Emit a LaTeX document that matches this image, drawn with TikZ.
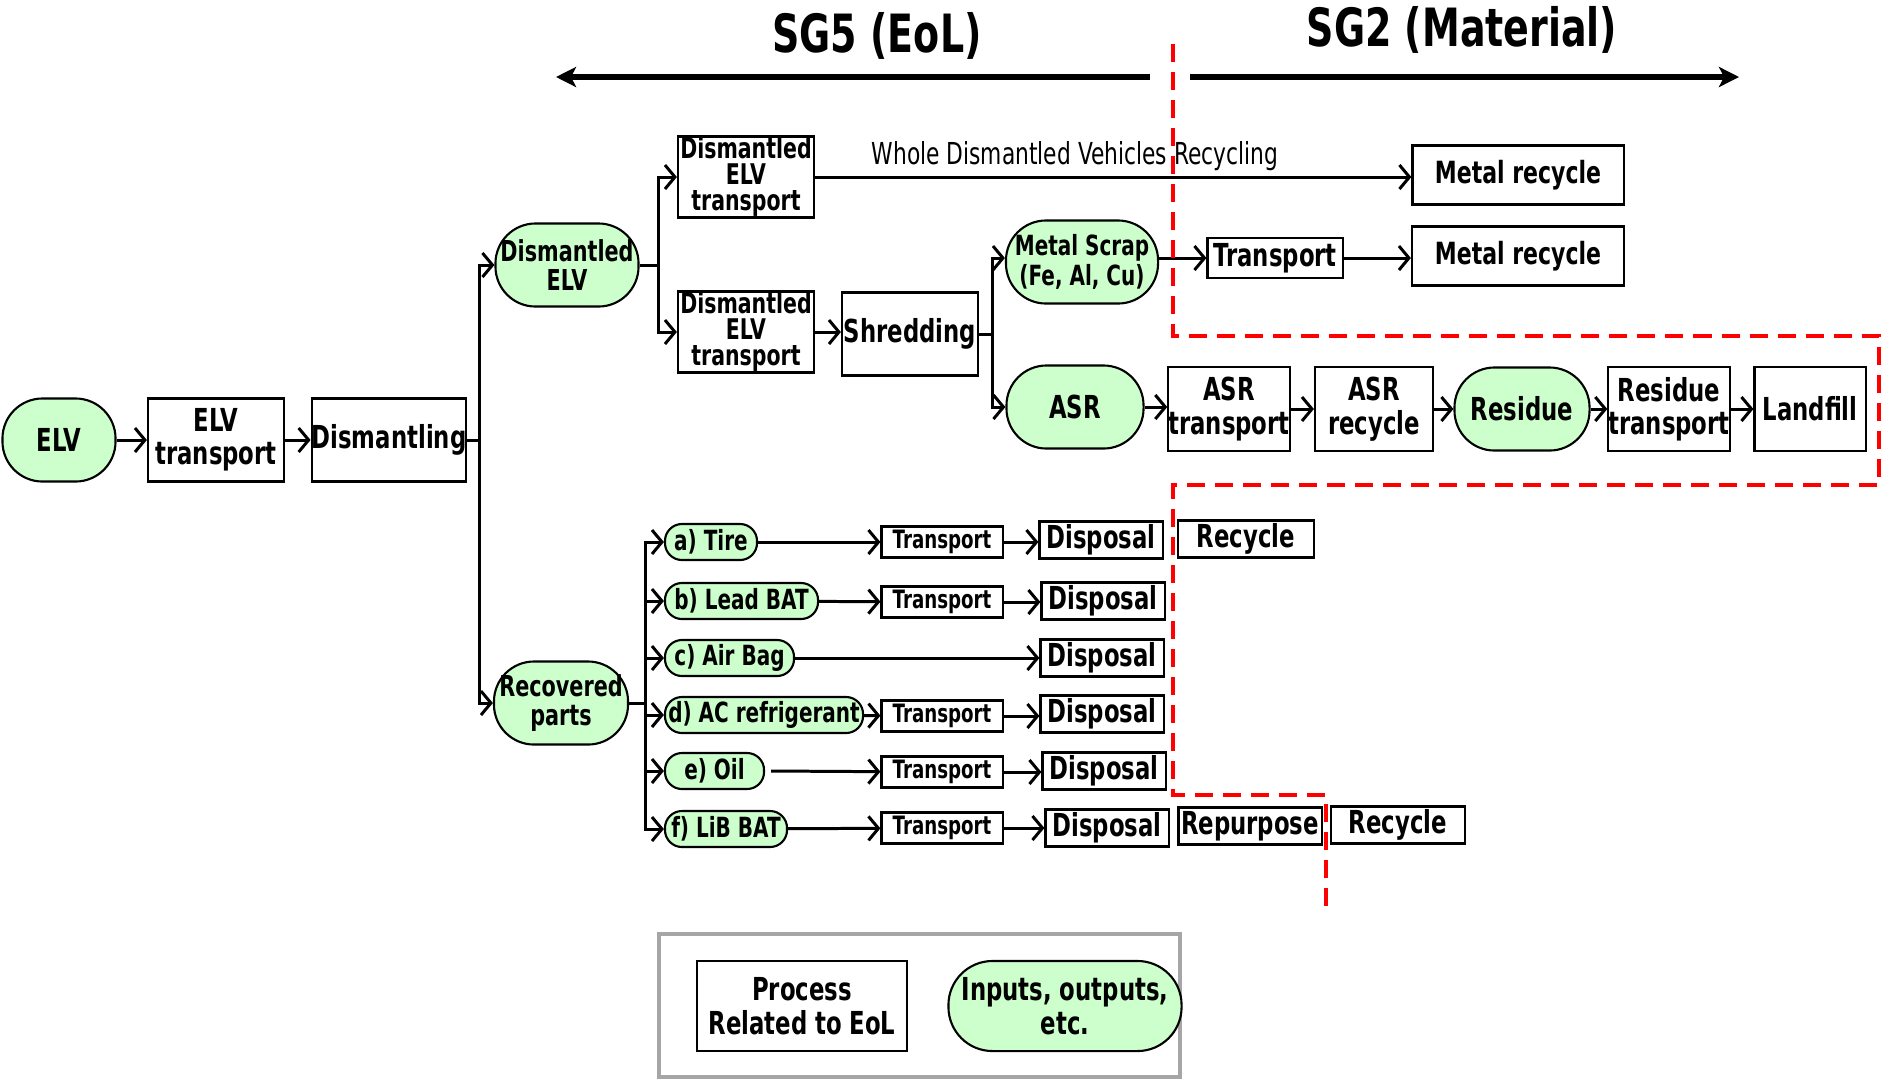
\documentclass[tikz,border=0pt]{standalone}
\usepackage{fontspec}
\setmainfont{DejaVu Sans}[FakeStretch=0.72]
\usetikzlibrary{arrows.meta}

\definecolor{iogreen}{HTML}{CCFFCC}
\definecolor{legendgray}{HTML}{A6A6A6}

\begin{document}
\begin{tikzpicture}[x=0.01cm, y=-0.01cm,
	every node/.style={font=\bfseries\fontsize{9}{9.5}\selectfont, inner sep=0pt, align=center},
	proc/.style={draw, line width=0.6pt, minimum height=0.83cm},
	io/.style={draw, line width=0.6pt, fill=iogreen, rounded corners=0.4cm, minimum height=0.83cm},
	part/.style={io, rounded corners=0.17cm, minimum height=0.36cm, font=\bfseries\fontsize{7.9}{8}\selectfont},
	smallproc/.style={draw, line width=0.6pt, minimum width=1.21cm, minimum height=0.31cm, font=\bfseries\fontsize{7.2}{7.2}\selectfont},
	disp/.style={proc, minimum width=1.23cm, minimum height=0.37cm},
	flow/.style={line width=0.85pt, -{Straight Barb[length=1mm, width=2.4mm]}},
	link/.style={line width=0.85pt},
	sgarrow/.style={line width=1.5pt, -{Stealth[length=2mm, width=2mm, inset=0.5mm]}},
	sgline/.style={red, line width=1.2pt, dash pattern=on 0.18cm off 0.1cm},
	]
	\useasboundingbox (0,0) rectangle (1883,1081);

	% SG5 / SG2 headings
	\node[font=\bfseries\fontsize{15}{15}\selectfont] (sgfive) at (877,36) {SG5 (EoL)};
	\node[font=\bfseries\fontsize{15}{15}\selectfont] (sgtwo) at (1462,30) {SG2 (Material)};
	\coordinate (eolleft) at (556,77);
	\coordinate (eolright) at (1150,77);
	\coordinate (matleft) at (1190,77);
	\coordinate (matright) at (1739,77);
	\draw[sgarrow] (eolright) -- (eolleft);
	\draw[sgarrow] (matleft) -- (matright);

	% main line
	\node[io, minimum width=1.13cm] (elv) at (59,440) {ELV};
	\node[proc, minimum width=1.36cm] (elvtr) at (216,440) {ELV\\transport};
	\node[proc, minimum width=1.52cm] (dism) at (389,440) {Dismantling};
	\node[io, minimum width=1.43cm, font=\bfseries\fontsize{8.2}{8.4}\selectfont] (delv) at (567,265) {Dismantled\\ELV};
	\node[io, minimum width=1.34cm, font=\bfseries\fontsize{8.2}{8.4}\selectfont] (recp) at (561,703) {Recovered\\parts};

	% dismantled ELV
	\node[proc, minimum width=1.36cm, minimum height=0.81cm, font=\bfseries\fontsize{8.1}{7.4}\selectfont] (dtrone) at (746,177) {Dismantled\\ELV\\transport};
	\node[proc, minimum width=1.36cm, minimum height=0.81cm, font=\bfseries\fontsize{8.1}{7.4}\selectfont] (dtrtwo) at (746,332) {Dismantled\\ELV\\transport};
	\node[proc, minimum width=2.11cm, minimum height=0.59cm, font=\bfseries\fontsize{8.7}{9}\selectfont] (mrone) at (1518,175) {Metal recycle};
	\node[font=\fontsize{8.6}{9}\selectfont] (wdvr) at (1075,156) {Whole Dismantled Vehicles Recycling};
	\node[proc, minimum width=1.36cm] (shred) at (910,334) {Shredding};
	\node[io, minimum width=1.52cm, font=\bfseries\fontsize{7.9}{8.4}\selectfont] (msc) at (1082,262) {Metal Scrap\\(Fe, Al, Cu)};
	\node[proc, minimum width=1.35cm, minimum height=0.4cm] (mtr) at (1275,258) {Transport};
	\node[proc, minimum width=2.12cm, minimum height=0.59cm, font=\bfseries\fontsize{8.7}{9}\selectfont] (mrtwo) at (1518,256) {Metal recycle};
	\node[io, minimum width=1.37cm] (asr) at (1075,407) {ASR};
	\node[proc, minimum width=1.21cm, minimum height=0.84cm] (asrtr) at (1229,409) {ASR\\transport};
	\node[proc, minimum width=1.18cm, minimum height=0.84cm] (asrrec) at (1374,409) {ASR\\recycle};
	\node[io, minimum width=1.35cm] (resid) at (1522,409) {Residue};
	\node[proc, minimum width=1.13cm, minimum height=0.84cm] (restr) at (1669,409) {Residue\\transport};
	\node[proc, minimum width=1.11cm, minimum height=0.84cm] (landf) at (1810,409) {Landfill};

	% recovered parts
	\node[part, minimum width=0.92cm] (pa) at (711,542) {a) Tire};
	\node[part, minimum width=1.53cm] (pb) at (741.5,601) {b) Lead BAT};
	\node[part, minimum width=1.29cm] (pc) at (729.5,658) {c) Air Bag};
	\node[part, minimum width=1.98cm] (pd) at (764,715) {d) AC refrigerant};
	\node[part, minimum width=0.99cm] (pe) at (714.5,771) {e) Oil};
	\node[part, minimum width=1.22cm] (pf) at (726,829) {f) LiB BAT};
	\node[smallproc] (ta) at (942,542) {Transport};
	\node[smallproc] (tb) at (942,602) {Transport};
	\node[smallproc] (td) at (942,716) {Transport};
	\node[smallproc] (te) at (942,772) {Transport};
	\node[smallproc] (tf) at (942,828) {Transport};
	\node[disp] (da) at (1101,540) {Disposal};
	\node[disp] (db) at (1103,601) {Disposal};
	\node[disp] (dc) at (1102,658) {Disposal};
	\node[disp] (dd) at (1102,714) {Disposal};
	\node[disp] (de) at (1104,771) {Disposal};
	\node[disp] (df) at (1107,828) {Disposal};
	\node[disp, minimum width=1.36cm] (reca) at (1246,539) {Recycle};
	\node[disp, minimum width=1.43cm] (repf) at (1250,826) {Repurpose};
	\node[disp, minimum width=1.34cm] (recf) at (1398,825) {Recycle};

	% legend
	\node[draw=legendgray, line width=1pt, minimum width=5.21cm, minimum height=1.43cm] (legend) at (919.5,1005.5) {};
	\node[proc, minimum width=2.1cm, minimum height=0.9cm] (legproc) at (802,1006) {Process\\Related to EoL};
	\node[io, minimum width=2.33cm, minimum height=0.9cm, rounded corners=0.44cm] (legio) at (1065,1006) {Inputs, outputs,\\etc.};

	\coordinate (busdism) at (479,440);
	\coordinate (busdelv) at (658,265);
	\coordinate (busshred) at (992,334);
	\coordinate (busrecp) at (645,703);

	\begin{scope}[link]
	\draw (dism) -- (busdism);
	\draw (delv) -- (busdelv);
	\draw (shred) -- (busshred);
	\draw (recp) -- (busrecp);
	\end{scope}

	\begin{scope}[flow]
	\draw (elv) -- (elvtr);
	\draw (elvtr) -- (dism);
	\draw (busdism) |- (delv);
	\draw (busdism) |- (recp);
	\draw (busdelv) |- (dtrone);
	\draw (busdelv) |- (dtrtwo);
	\draw (dtrone) -- (dtrone -| mrone.west);
	\draw (dtrtwo) -- (dtrtwo -| shred.west);
	\draw (busshred) |- (msc.west |- mtr);
	\draw (busshred) |- (asr);
	\draw (msc.east |- mtr) -- (mtr);
	\draw (mtr) -- (mtr -| mrtwo.west);
	\draw (asr) -- (asr -| asrtr.west);
	\draw (asrtr) -- (asrrec);
	\draw (asrrec) -- (resid);
	\draw (resid) -- (restr);
	\draw (restr) -- (landf);
	\draw (busrecp) |- (pa);
	\draw (busrecp) |- (pb);
	\draw (busrecp) |- (pc);
	\draw (busrecp) |- (pd);
	\draw (busrecp) |- (pe);
	\draw (busrecp) |- (pf);
	\draw (pa) -- (ta);
	\draw (ta) -- (ta -| da.west);
	\draw (pb) -- (tb);
	\draw (tb) -- (tb -| db.west);
	\draw (pc) -- (dc);
	\draw (pd) -- (td);
	\draw (td) -- (td -| dd.west);
	\draw ([xshift=0.06cm]pe.east) -- (te);
	\draw (te) -- (te -| de.west);
	\draw (pf) -- (tf);
	\draw (tf) -- (df);
	\end{scope}

	% SG5 / SG2 boundary
	\draw[sgline] (1173,44) -- (1173,336) -- (1879,336) -- (1879,485) -- (1173,485)
		-- (1173,795) -- (1326,795) -- (1326,910);
\end{tikzpicture}
\end{document}
